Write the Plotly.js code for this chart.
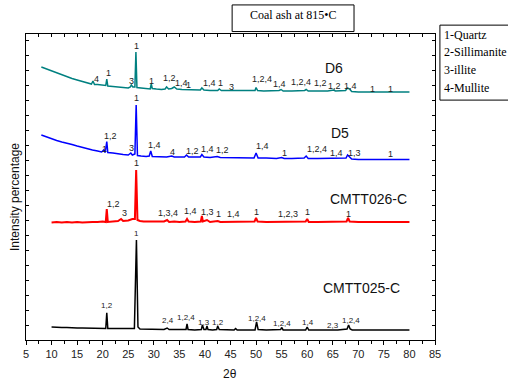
<!DOCTYPE html>
<html>
<head>
<meta charset="utf-8">
<script src="https://cdn.plot.ly/plotly-3.0.1.min.js"></script>
<style>html,body{margin:0;padding:0;background:#fff;}#chart{width:508px;height:383px;}</style>
</head>
<body>
<div id="chart"></div>
<script>
// 2-theta positions and stacked intensities (arbitrary units) for each sample
const xD6 = [8,9,10,11,12,13,14,15,16,17,17.8,18.1,18.4,19,20,20.6,20.8,21.0,22,23,24,25,25.4,25.6,25.9,26.3,26.5,26.7,27.5,28.5,29.3,29.5,29.7,30.5,31.5,32.2,32.5,32.9,33.5,34.0,34.5,35.5,36.5,37.5,38.5,39.1,39.4,39.8,41,42.5,42.8,43.2,44.5,46,47.5,49,49.8,50.0,50.3,51.5,53,54.5,54.9,55.3,57,58.5,59.5,59.8,60.2,61.5,62.4,62.8,64,65.2,65.5,66.5,67.5,67.9,68.3,68.7,70,72,74,76,78,80];
const yD6 = [273,271,269,267,265,263,261.5,260,258.5,257,256,259,255.5,255.5,255,254.5,261,254,253.5,253,252.5,252,253,255,253,253,288,252.5,252,251.5,251,256,251.5,251,250.5,251,253,251,251.5,253,251,250.5,250.5,250,250,250,252,250,249.5,249.5,251,249.5,249.5,249.5,249,249,249.5,252.5,249.5,249,249,249.5,250.5,249,249,249,249.5,250.5,249,249,249.5,249,249,250,249,249,249.5,252,251,248.5,248,248,248,248,248,248];

const xD5 = [8,9,10,11,12,13,14,15,16,17,18,19,19.8,20.2,20.5,20.8,21.0,22,23,24,25,25.5,25.8,26.3,26.55,26.8,27.5,28.5,29.1,29.4,29.7,30.5,31.5,32.5,33.5,34,35,36.0,36.4,36.8,38,39.1,39.4,39.8,41,42.4,43,44.5,46,48,49.6,50.0,50.4,52,54,55,55.5,57,59.4,59.8,60.2,62,64,65.5,66.5,67.6,67.9,68.3,68.7,70,72,74,76,78,80];
const yD5 = [205,203,201,199.5,198,197,195.5,194,192.5,191,190,189,188,190,187.5,198.5,187.5,187,186,185.5,185,187,185,186,235,184.5,184,183.5,184,189,183.5,183.5,183,183,184,183,183,183,185,183,183,183,185.5,183,182.5,183.5,182.5,182.5,182.5,182,182,187,182,182,181.5,182.5,181.5,181.5,182,184,181.5,181.5,181.5,182,181.5,182,185,183,181,180.5,180.5,180.5,181,180.5,180.5];

const xC26 = [10,11,12,13,14,15,16,17,18,19,20,20.6,20.8,21.0,22,23,23.6,24,25,25.8,26.3,26.55,26.8,27.3,28,29,30,31,32,32.6,33,34,35,36.2,36.5,36.8,38,39.2,39.4,39.6,40.4,41,42.5,43,44,45.5,46,48,49.7,50.0,50.3,52,54,56,57,59.7,60.0,60.3,62,64,66,67.7,68.0,68.3,70,72,74,76,78,80];
const yC26 = [117.5,118,117.5,118,117.5,118,117.5,118,118,118,118.5,118,131,118,118.5,119,121,119,119.5,121,121,170,120,119,118.5,118.5,118,118,118.5,120,118,118.5,118,118.5,121,118.5,118,118.5,124,118.5,120,118,119,118,118,118.5,118,118,118.5,122,118.5,118,118,118.5,118,118.5,121,118,118,118,118,118.5,122,118.5,118,118,118,118,118,118];

const xC25 = [10,11,12,13,14,15,16,17,18,19,20,20.6,20.8,21.0,22,23,24,25,26.2,26.6,26.9,27.3,28,29,30,31,32,32.6,33,34,35,36.3,36.5,36.7,38,39.3,39.5,39.8,40.2,40.4,40.6,41.5,42.3,42.5,42.8,44,45.7,46,46.3,48,49.8,50.1,50.4,52,54,54.8,55.0,55.3,57,59.7,60.0,60.3,62,64,66,67.8,68.1,68.4,68.8,70,72,74,76,78,80];
const yC25 = [13,12.5,12.5,12.5,12,12,12,12,11.5,11.5,11.5,11.5,27.3,11.5,11.5,11.5,11,11,11.5,100,13,11,11,10.5,10.5,10.5,10.5,12,10.5,10.5,10.5,10.5,16,10.5,10,10.5,15,10.5,10.5,14,10.5,10,10.5,14,10.5,10,10,11.5,10,10,10,18,10.5,10,10,10.5,12.5,10,10,10,13,10,10,10,10,11,15,11,10,10,10,10,10,10,10];

// Peak phase labels: 1-Quartz, 2-Sillimanite, 3-illite, 4-Mullite
const d6LabelX = [18.7,21.1,26.65,25.7,29.6,33.0,35.4,36.7,40.8,43.1,45.2,51.2,54.5,58.8,62.6,65.3,68.5,72.7,76.2];
const d6LabelY = [261,267,294,259,259,262,257,255,257,257,253,261,256,258,257,254,254,251,251];
const d6LabelText = ["4","1","1","3","1","1,2","1,4","1","1,4","1","3","1,2,4","1,4","1,2,4","1,2","1,2","1,4","1","1"];

const d5LabelX = [20.3,21.6,25.7,26.65,30.2,33.6,37.6,40.5,43.4,51.3,55.5,61.9,65.8,69.2,76.2];
const d5LabelY = [191,204,192,242,195,188,189,191,190,194,187,191,187,187,186];
const d5LabelText = ["1","1,2","3","1","1,4","4","1,2","1,4","1,2","1,4","1","1,2,4","1,4","1,3","1"];

const c26LabelX = [22.1,24.2,26.65,32.8,37.1,40.5,42.6,45.5,50,56.3,60,68];
const c26LabelY = [136,127,177,127,129,128,126,126,128,126,128,126];
const c26LabelText = ["1,2","3","1","1,3,4","1,4","1,3","1","1,4","1","1,2,3","1","1"];

const c25LabelX = [20.8,26.6,32.8,36.3,39.8,42.6,50.1,55,60.2,65,68.6];
const c25LabelY = [35,107,20,23,18,18,22,17,18,15,20];
const c25LabelText = ["1,2","1","2,4","1,2,4","1,3","1,2","1,2,4","1,2,4","1,4","2,3","1,2,4"];

const seriesNames = ["D6","D5","CMTT026-C","CMTT025-C"];
const seriesNameX = [65.2,66.4,72,70.7];
const seriesNameY = [272,207,141,52];

const phaseLegend = ["1-Quartz","2-Sillimanite","3-illite","4-Mullite"];
const chartTitle = "Coal ash at 815\u2022C";

const SANS = "Arial, 'Liberation Sans', sans-serif";
const SERIF = "'Times New Roman', 'Liberation Serif', serif";

const styles = [
  {x:xD6, y:yD6, color:"#008080", w:1.5},
  {x:xD5, y:yD5, color:"#0000ff", w:1.5},
  {x:xC26, y:yC26, color:"#ff0000", w:2},
  {x:xC25, y:yC25, color:"#000000", w:1.5}
];
const traces = styles.map((s,i)=>({x:s.x, y:s.y, type:"scatter", mode:"lines", name:seriesNames[i],
  line:{color:s.color, width:s.w}, showlegend:false, hoverinfo:"skip"}));

const annotations = [];
function addLabels(xs, ys, ts, size, color){
  xs.forEach((x,i)=>annotations.push({x:x, y:ys[i], xref:"x", yref:"y", text:ts[i],
    showarrow:false, font:{family:SANS, size:size, color:color}, xanchor:"center", yanchor:"middle"}));
}
addLabels(d6LabelX, d6LabelY, d6LabelText, 9, "#222");
addLabels(d5LabelX, d5LabelY, d5LabelText, 9, "#222");
addLabels(c26LabelX, c26LabelY, c26LabelText, 9, "#222");
addLabels(c25LabelX, c25LabelY, c25LabelText, 8, "#222");
seriesNames.forEach((n,i)=>annotations.push({x:seriesNameX[i], y:seriesNameY[i], xref:"x", yref:"y",
  text:n, showarrow:false, font:{family:SANS, size:14, color:"#111"}, xanchor:"center", yanchor:"middle"}));

// title in box
annotations.push({x:0.653, y:1.063, xref:"paper", yref:"paper", text:chartTitle, showarrow:false,
  font:{family:SERIF, size:12, color:"#000"}, xanchor:"center", yanchor:"middle"});
// phase legend
const legY = [0.997,0.941,0.882,0.824];
phaseLegend.forEach((t,i)=>annotations.push({x:1.018, y:legY[i], xref:"paper", yref:"paper", text:t,
  showarrow:false, font:{family:SERIF, size:12, color:"#000"}, xanchor:"left", yanchor:"middle"}));
// axis titles
annotations.push({x:0.499, y:-0.11, xref:"paper", yref:"paper", text:"2\u03b8", showarrow:false,
  font:{family:SANS, size:12, color:"#111"}, xanchor:"center", yanchor:"middle"});
annotations.push({x:-0.027, y:0.467, xref:"paper", yref:"paper", text:"Intensity percentage", showarrow:false,
  textangle:-90, font:{family:SANS, size:12, color:"#111"}, xanchor:"center", yanchor:"middle"});

const shapes = [
  {type:"rect", xref:"paper", yref:"paper", x0:0.504, x1:0.802, y0:1.008, y1:1.095, line:{color:"#000", width:1}, fillcolor:"rgba(0,0,0,0)"},
  {type:"rect", xref:"paper", yref:"paper", x0:1.012, x1:1.3, y0:0.784, y1:1.029, line:{color:"#000", width:1}, fillcolor:"rgba(0,0,0,0)"}
];

const layout = {
  width:508, height:383,
  margin:{l:26, r:73, t:34, b:43, pad:0},
  paper_bgcolor:"#fff", plot_bgcolor:"#fff",
  font:{family:SANS, size:11, color:"#222"},
  showlegend:false,
  xaxis:{range:[5,85], tickmode:"linear", tick0:5, dtick:5, ticks:"outside", ticklen:4, tickwidth:1,
    tickcolor:"#000", showline:true, linecolor:"#000", linewidth:1, showgrid:false, zeroline:false,
    minor:{dtick:2.5, tick0:5, ticks:"outside", ticklen:2.5, tickcolor:"#000", showgrid:false},
    tickfont:{family:SANS, size:11, color:"#222"}, fixedrange:true},
  xaxis2:{range:[5,85], overlaying:"x", side:"top", tickmode:"linear", tick0:5, dtick:2.5, ticks:"inside",
    ticklen:3, tickcolor:"#000", showline:true, linecolor:"#000", linewidth:1, showticklabels:false,
    showgrid:false, zeroline:false},
  yaxis:{range:[0,306], tickmode:"linear", tick0:0, dtick:15, ticks:"inside", ticklen:3, tickcolor:"#000",
    showline:true, linecolor:"#000", linewidth:1, mirror:"ticks", showticklabels:false, showgrid:false,
    zeroline:false, fixedrange:true},
  annotations:annotations,
  shapes:shapes
};

// invisible trace to activate the top axis
traces.push({x:[5,85], y:[0,0], xaxis:"x2", yaxis:"y", type:"scatter", mode:"lines",
  line:{color:"rgba(0,0,0,0)"}, showlegend:false, hoverinfo:"skip"});

Plotly.newPlot("chart", traces, layout, {staticPlot:true, displayModeBar:false});
</script>
</body>
</html>
